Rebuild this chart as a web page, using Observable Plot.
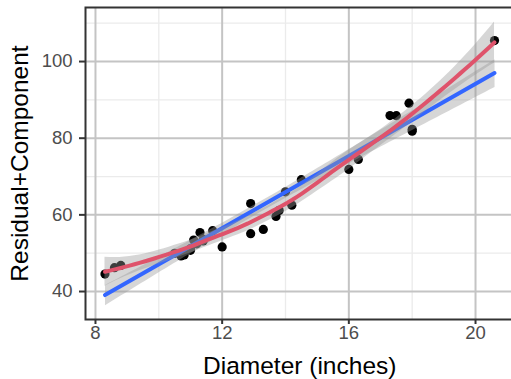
<!DOCTYPE html>
<html><head><meta charset="utf-8">
<script src="https://cdn.jsdelivr.net/npm/d3@7"></script>
<script src="https://cdn.jsdelivr.net/npm/@observablehq/plot@0.6"></script>
<style>html,body{margin:0;padding:0;background:#fff;overflow:hidden;width:511px;height:379px}</style>
</head><body><div id="chart"></div><script>
const diameter = [8.3, 8.6, 8.8, 10.5, 10.7, 10.8, 11.0, 11.0, 11.1, 11.2, 11.3, 11.4, 11.4, 11.7, 12.0, 12.9, 12.9, 13.3, 13.7, 13.8, 14.0, 14.2, 14.5, 16.0, 16.3, 17.3, 17.5, 17.9, 18.0, 18.0, 20.6];
const residualComponent = [44.54, 46.23, 46.81, 49.96, 49.30, 49.53, 51.19, 50.74, 53.44, 52.44, 55.38, 53.20, 53.60, 55.88, 51.64, 55.08, 62.95, 56.21, 59.60, 61.17, 66.02, 62.54, 69.18, 71.86, 74.46, 85.90, 85.87, 89.14, 82.34, 81.84, 105.47];
const xTicks = [8, 12, 16, 20];
const xMinor = [10, 14, 18];
const yTicks = [40, 60, 80, 100];
const yMinor = [50, 70, 90, 110];
const xTitle = "Diameter (inches)";
const yTitle = "Residual+Component";

const data = diameter.map((d, i) => ({d, rc: residualComponent[i]}));

// --- loess smoother (degree 2, span 0.75, kd-tree vertex interpolation) with standard errors ---
function inv3(m) {
  const [a,b,c] = m[0], [d,e,f] = m[1], [g,h,k] = m[2];
  const A = e*k - f*h, B = -(d*k - f*g), C = d*h - e*g;
  const det = a*A + b*B + c*C;
  return [
    [A/det, -(b*k - c*h)/det, (b*f - c*e)/det],
    [B/det, (a*k - c*g)/det, -(a*f - c*d)/det],
    [C/det, -(a*h - b*g)/det, (a*e - b*d)/det]
  ];
}
const span = 0.75, n = diameter.length;
function localRows(x0) {
  const q = Math.floor(n * span);
  const dist = diameter.map(x => Math.abs(x - x0));
  const h = dist.slice().sort((a, b) => a - b)[q - 1];
  const w = dist.map(di => { const u = di / h; return u < 1 ? Math.pow(1 - u*u*u, 3) : 0; });
  const S = [[0,0,0],[0,0,0],[0,0,0]];
  diameter.forEach((x, i) => { const t = x - x0, b = [1, t, t*t];
    for (let r = 0; r < 3; r++) for (let c = 0; c < 3; c++) S[r][c] += w[i]*b[r]*b[c]; });
  const inv = inv3(S);
  const val = diameter.map((x, i) => { const t = x - x0; return w[i]*(inv[0][0] + inv[0][1]*t + inv[0][2]*t*t); });
  const der = diameter.map((x, i) => { const t = x - x0; return w[i]*(inv[1][0] + inv[1][1]*t + inv[1][2]*t*t); });
  return {val, der};
}
const xsSorted = diameter.slice().sort((a, b) => a - b);
const fc = Math.floor(n * span * 0.2);
const lo0 = xsSorted[0], hi0 = xsSorted[n - 1], mu = 0.005 * (hi0 - lo0);
const verts = [lo0 - mu, hi0 + mu];
(function split(l, u, vlo, vhi) {
  if (u - l + 1 <= fc) return;
  let m = Math.floor((l + u) / 2), off = 0;
  while (!((m + off >= u) || (m + off < l))) {
    if (xsSorted[m + off] === xsSorted[m + off + 1]) { off = -off; if (off >= 0) off++; }
    else { m = m + off; break; }
  }
  const t = xsSorted[m];
  if (t === vlo || t === vhi) return;
  verts.push(t);
  split(l, m, vlo, t); split(m + 1, u, t, vhi);
})(0, n - 1, lo0 - mu, hi0 + mu);
verts.sort((a, b) => a - b);
const vRows = verts.map(localRows);
function rowAt(x0) {
  let j = 0;
  while (j < verts.length - 2 && x0 > verts[j + 1]) j++;
  const v0 = verts[j], v1 = verts[j + 1], hh = v1 - v0, t = (x0 - v0) / hh;
  const h00 = 2*t**3 - 3*t**2 + 1, h10 = t**3 - 2*t**2 + t, h01 = -2*t**3 + 3*t**2, h11 = t**3 - t**2;
  const a = vRows[j], b = vRows[j + 1];
  return a.val.map((_, i) => h00*a.val[i] + h10*hh*a.der[i] + h01*b.val[i] + h11*hh*b.der[i]);
}
const L = diameter.map(rowAt);
const fitted = L.map(row => d3.sum(row, (l, i) => l*residualComponent[i]));
const rss = d3.sum(fitted, (f, i) => (residualComponent[i] - f)**2);
const A = L.map((row, i) => row.map((l, j) => (i === j ? 1 : 0) - l));
let delta1 = 0, delta2 = 0;
for (let j = 0; j < n; j++) for (let k = 0; k < n; k++) {
  let m = 0; for (let i = 0; i < n; i++) m += A[i][j]*A[i][k];
  if (j === k) delta1 += m; delta2 += m*m;
}
const sigma = Math.sqrt(rss/delta1), df = delta1*delta1/delta2;
const z = 1.959964;
const tq = z + (z**3 + z)/(4*df) + (5*z**5 + 16*z**3 + 3*z)/(96*df*df) + (3*z**7 + 19*z**5 + 17*z**3 - 15*z)/(384*df**3);
const [xmin, xmax] = d3.extent(diameter);
const grid = d3.range(80).map(i => xmin + i*(xmax - xmin)/79);
const smooth = grid.map(x0 => {
  const l = rowAt(x0);
  const fit = d3.sum(l, (li, i) => li*residualComponent[i]);
  const se = sigma*Math.sqrt(d3.sum(l, li => li*li));
  return {x: x0, fit, lo: fit - tq*se, hi: fit + tq*se};
});

const font = "'Liberation Sans', Arial, Helvetica, sans-serif";
const chart = Plot.plot({
  width: 515, height: 379,
  marginLeft: 85, marginRight: 1.5, marginTop: 7, marginBottom: 60,
  style: {fontFamily: font, background: "white", maxWidth: "none"},
  x: {domain: [7.685, 21.215], label: null},
  y: {domain: [32.7, 114.1], label: null},
  marks: [
    Plot.gridX(xMinor, {stroke: "#ebebeb", strokeOpacity: 1, strokeWidth: 1.3}),
    Plot.gridY(yMinor, {stroke: "#ebebeb", strokeOpacity: 1, strokeWidth: 1.3}),
    Plot.gridX(xTicks, {stroke: "#c4c4c4", strokeOpacity: 1, strokeWidth: 2}),
    Plot.gridY(yTicks, {stroke: "#c4c4c4", strokeOpacity: 1, strokeWidth: 2}),
    Plot.dot(data, {x: "d", y: "rc", r: 4.6, fill: "black", stroke: "none"}),
    Plot.linearRegressionY(data, {x: "d", y: "rc", stroke: "#3366FF", strokeWidth: 4, fill: "#999999", fillOpacity: 0.4, ci: 0.95}),
    Plot.areaY(smooth, {x: "x", y1: "lo", y2: "hi", fill: "#999999", fillOpacity: 0.4}),
    Plot.line(smooth, {x: "x", y: "fit", stroke: "#DF536B", strokeWidth: 4}),
    Plot.frame({stroke: "#333333", strokeWidth: 2}),
    Plot.axisX(xTicks, {tickSize: 5, color: "#333333", strokeWidth: 2, tickFormat: () => "", label: null}),
    Plot.axisX(xTicks, {tickSize: 0, tickPadding: 6, color: "#4d4d4d", fontSize: 18.5, label: null}),
    Plot.axisY(yTicks, {tickSize: 6, color: "#333333", strokeWidth: 2, tickFormat: () => "", label: null}),
    Plot.axisY(yTicks, {tickSize: 0, tickPadding: 13, color: "#4d4d4d", fontSize: 18.5, label: null}),
    Plot.text([xTitle], {frameAnchor: "bottom", dy: 47, fontSize: 24.5, fill: "black", lineAnchor: "middle"}),
    Plot.text([yTitle], {frameAnchor: "left", dx: -65, rotate: -90, textAnchor: "middle", fontSize: 24.5, fill: "black", lineAnchor: "middle"})
  ]
});
document.getElementById("chart").appendChild(chart);
</script></body></html>
